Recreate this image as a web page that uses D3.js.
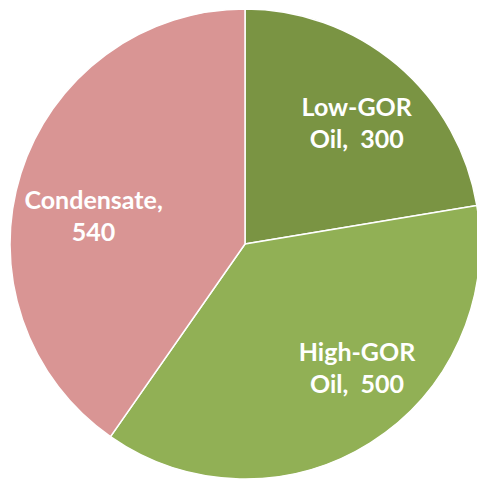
<!DOCTYPE html>
<html>
<head>
<meta charset="utf-8">
<script src="https://cdn.jsdelivr.net/npm/d3@7"></script>
<style>
  html, body { margin: 0; padding: 0; background: #fff; overflow: hidden; }
  text { font-family: Lato, "Open Sans", sans-serif; font-weight: bold; white-space: pre; }
</style>
</head>
<body>
<div id="chart"></div>
<script>
// Data
const categories = ["Low-GOR Oil", "High-GOR Oil", "Condensate"];
const values = [300, 500, 540];
const labelLines = [["Low-GOR", "Oil,  300"], ["High-GOR", "Oil,  500"], ["Condensate,", "540"]];

const colors = ["#7a9443", "#91b055", "#d99594"];
// label nudges from the arc centroid
const nudges = [[5, -2], [24, -23], [6, 15]];

const width = 477, height = 479;
const cx = 245, cy = 244, radius = 235;

const svg = d3.select("#chart")
    .append("svg")
    .attr("width", width)
    .attr("height", height);

const g = svg.append("g")
    .attr("transform", `translate(${cx},${cy})`);

const pie = d3.pie().sort(null).value(d => d);
const arcs = pie(values);

const arc = d3.arc().innerRadius(0).outerRadius(radius);
const labelArc = d3.arc().innerRadius(165).outerRadius(165);

// Slices
g.selectAll("path")
    .data(arcs)
    .enter().append("path")
    .attr("d", arc)
    .attr("fill", (d, i) => colors[i])
    .attr("stroke", "#fff")
    .attr("stroke-width", 1.5);

// Labels
const label = g.selectAll("text")
    .data(arcs)
    .enter().append("text")
    .attr("text-anchor", "middle")
    .attr("fill", "#fff")
    .attr("font-size", 25)
    .attr("transform", (d, i) => {
        const c = labelArc.centroid(d);
        return `translate(${c[0] + nudges[i][0]},${c[1] + nudges[i][1]})`;
    });

label.selectAll("tspan")
    .data((d, i) => labelLines[i])
    .enter().append("tspan")
    .attr("x", 0)
    .attr("y", (d, j) => j * 32)
    .text(d => d);
</script>
</body>
</html>
